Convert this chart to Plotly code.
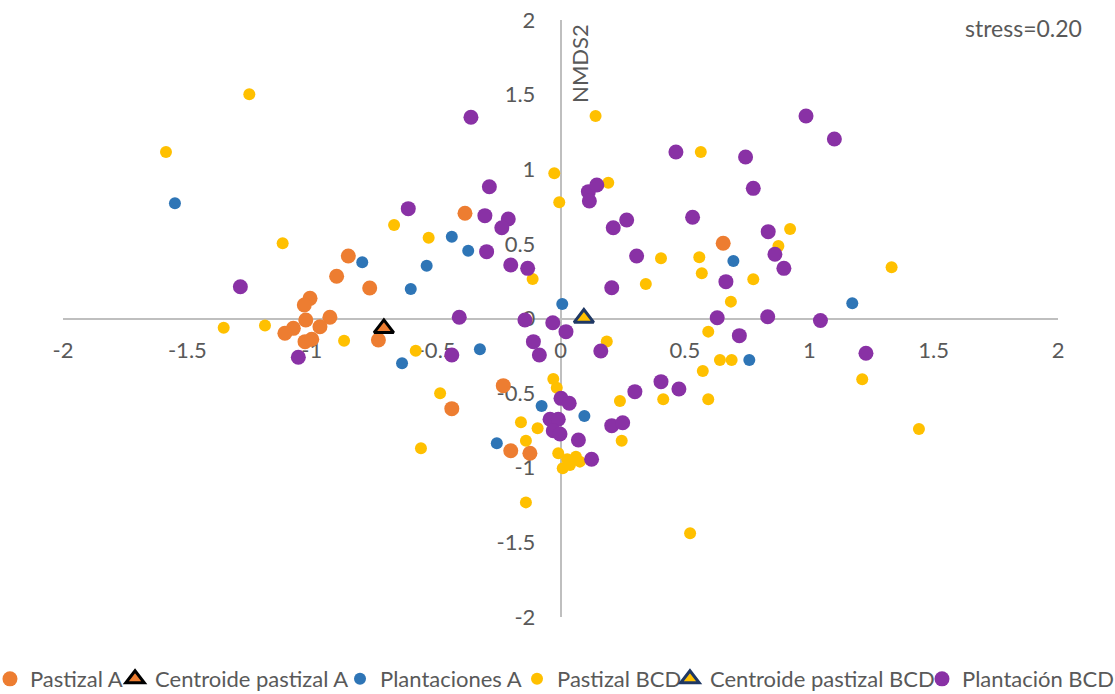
import plotly.graph_objects as go

# ---- data (NMDS1, NMDS2) ----
pastizal_a_x = [-0.853, -0.900, -0.767, -1.007, -1.030, -0.927, -1.024, -0.967, -1.074, -1.108,
                -1.027, -1.000, -0.732, -0.384, 0.654, -0.230, -0.437, -0.200, -0.123]
pastizal_a_y = [0.419, 0.283, 0.204, 0.135, 0.090, 0.008, -0.010, -0.055, -0.066, -0.099,
                -0.155, -0.139, -0.144, 0.705, 0.504, -0.450, -0.604, -0.886, -0.903]

centroide_a_x = [-0.710]
centroide_a_y = [-0.066]

plantaciones_a_x = [-1.550, -0.797, -0.538, -0.602, -0.437, -0.371, 0.007, -0.637, -0.324, -0.076,
                    0.096, -0.256, 0.695, 0.759, 1.173]
plantaciones_a_y = [0.772, 0.377, 0.354, 0.198, 0.548, 0.454, 0.097, -0.300, -0.206, -0.586,
                    -0.653, -0.836, 0.385, -0.278, 0.102]

pastizal_bcd_x = [-1.251, -1.586, -1.117, -1.354, -1.188, -0.870, -0.582, -0.669, -0.530, -0.484,
                  -0.561, -0.112, -0.025, -0.005, 0.141, 0.192, 0.564, 0.404, 0.343, 0.558,
                  0.568, 0.685, 0.775, 0.876, 0.923, 1.331, 0.186, 0.594, 0.641, 0.688,
                  0.572, 1.213, 1.441, 0.594, 0.413, 0.239, 0.246, -0.029, -0.015, -0.159,
                  -0.092, -0.139, -0.009, 0.062, 0.038, 0.009, 0.078, 0.027, -0.139, 0.521]
pastizal_bcd_y = [1.502, 1.116, 0.504, -0.062, -0.047, -0.149, -0.216, 0.626, 0.541, -0.501,
                  -0.870, 0.265, 0.973, 0.779, 1.357, 0.910, 1.116, 0.403, 0.231, 0.410,
                  0.303, 0.113, 0.263, 0.486, 0.600, 0.343, -0.154, -0.088, -0.278, -0.278,
                  -0.352, -0.407, -0.740, -0.541, -0.541, -0.553, -0.819, -0.405, -0.464, -0.695,
                  -0.736, -0.819, -0.903, -0.926, -0.982, -1.004, -0.959, -0.943, -1.232, -1.439]

centroide_bcd_x = [0.094]
centroide_bcd_y = [0.003]

plantacion_bcd_x = [-1.287, -1.054, -0.612, -0.360, -0.286, -0.304, -0.210, -0.236, -0.297, -0.200,
                    -0.132, -0.407, -0.437, -0.143, -0.109, -0.085, -0.031, 0.022, 0.162, 0.112,
                    0.146, 0.116, 0.212, 0.266, 0.206, 0.306, 0.531, 0.464, 0.744, 0.775,
                    0.987, 1.101, 0.835, 0.862, 0.898, 0.665, 0.630, 0.833, 1.045, 0.719,
                    1.228, 0.299, 0.404, 0.476, 0.002, 0.035, -0.042, -0.009, -0.029, -0.002,
                    0.072, 0.206, 0.250, 0.125]
plantacion_bcd_y = [0.213, -0.260, 0.736, 1.348, 0.883, 0.689, 0.667, 0.608, 0.448, 0.358,
                    0.336, 0.008, -0.245, -0.010, -0.155, -0.245, -0.028, -0.088, -0.218, 0.850,
                    0.894, 0.787, 0.608, 0.660, 0.206, 0.419, 0.678, 1.116, 1.082, 0.872,
                    1.357, 1.203, 0.582, 0.430, 0.336, 0.247, 0.005, 0.012, -0.013, -0.115,
                    -0.233, -0.490, -0.423, -0.472, -0.535, -0.568, -0.675, -0.675, -0.752, -0.774,
                    -0.814, -0.718, -0.698, -0.943]

tick_vals = [-2, -1.5, -1, -0.5, 0, 0.5, 1, 1.5, 2]
tick_text = ["-2", "-1.5", "-1", "-0.5", "0", "0.5", "1", "1.5", "2"]

ORANGE = "#ED7D31"
BLUE = "#2E75B6"
YELLOW = "#FFC000"
PURPLE = "#8931A5"
TXT = "#595959"
FONT = "Lato"

fig = go.Figure()
fig.add_trace(go.Scatter(x=pastizal_a_x, y=pastizal_a_y, mode="markers", name="Pastizal A",
                         marker=dict(color=ORANGE, size=15), legend="legend"))
fig.add_trace(go.Scatter(x=centroide_a_x, y=centroide_a_y, mode="markers", name="Centroide pastizal A",
                         marker=dict(color=ORANGE, size=17, symbol="triangle-up",
                                     line=dict(color="black", width=3)), legend="legend2"))
fig.add_trace(go.Scatter(x=plantaciones_a_x, y=plantaciones_a_y, mode="markers", name="Plantaciones A",
                         marker=dict(color=BLUE, size=12), legend="legend3"))
fig.add_trace(go.Scatter(x=pastizal_bcd_x, y=pastizal_bcd_y, mode="markers", name="Pastizal BCD",
                         marker=dict(color=YELLOW, size=12), legend="legend4"))
fig.add_trace(go.Scatter(x=centroide_bcd_x, y=centroide_bcd_y, mode="markers", name="Centroide pastizal BCD",
                         marker=dict(color=YELLOW, size=17, symbol="triangle-up",
                                     line=dict(color="#1F3864", width=3)), legend="legend5"))
fig.add_trace(go.Scatter(x=plantacion_bcd_x, y=plantacion_bcd_y, mode="markers", name="Plantación BCD",
                         marker=dict(color=PURPLE, size=15), legend="legend6"))

axis_common = dict(
    range=[-2, 2], tickmode="array", tickvals=tick_vals, ticktext=tick_text,
    showgrid=False, zeroline=False, showline=True, linecolor="#BFBFBF", linewidth=1.5,
    ticks="outside", tickcolor="rgba(0,0,0,0)", anchor="free", position=0.5,
    tickfont=dict(family=FONT, size=22, color=TXT), layer="below traces", fixedrange=True,
)
fig.update_xaxes(**axis_common, ticklen=12)
fig.update_yaxes(**axis_common, ticklen=20)

fig.add_annotation(x=2.097, y=0.131, xref="x", yref="y", text="NMDS1", showarrow=False,
                   xanchor="right", yanchor="middle", font=dict(family=FONT, size=22, color=TXT))
fig.add_annotation(x=0.078, y=1.712, xref="x", yref="y", text="NMDS2", showarrow=False,
                   textangle=-90, xanchor="center", yanchor="middle",
                   font=dict(family=FONT, size=22, color=TXT))
fig.add_annotation(x=1.861, y=1.946, xref="x", yref="y", text="stress=0.20", showarrow=False,
                   xanchor="center", yanchor="middle", font=dict(family=FONT, size=23, color=TXT))

legend_common = dict(orientation="h", xanchor="left", y=-0.1039, yanchor="middle",
                     font=dict(family=FONT, size=22, color=TXT), itemclick=False,
                     bgcolor="rgba(0,0,0,0)")
legend_x = [-0.0734, 0.0523, 0.2784, 0.4563, 0.6100, 0.8633]

fig.update_layout(
    width=1115, height=694,
    margin=dict(l=63, r=57, t=20, b=77, autoexpand=False),
    paper_bgcolor="white", plot_bgcolor="white",
    showlegend=True,
    legend=dict(x=legend_x[0], **legend_common),
    legend2=dict(x=legend_x[1], **legend_common),
    legend3=dict(x=legend_x[2], **legend_common),
    legend4=dict(x=legend_x[3], **legend_common),
    legend5=dict(x=legend_x[4], **legend_common),
    legend6=dict(x=legend_x[5], **legend_common),
    font=dict(family=FONT, color=TXT),
)

fig.write_html("out.html", config={"displayModeBar": False})
